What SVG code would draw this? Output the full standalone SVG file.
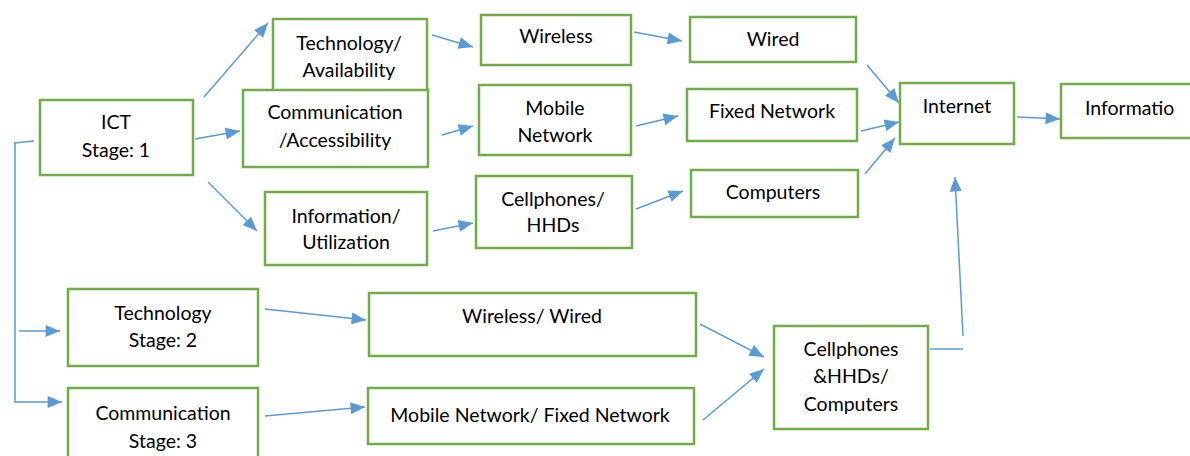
<svg xmlns="http://www.w3.org/2000/svg" width="1190" height="456" viewBox="0 0 1190 456">
<defs>
<style>
.box{fill:#fff;stroke:#70AD47;stroke-width:2.5}
.t{font-family:Lato,"Open Sans","Liberation Sans",sans-serif;font-size:19.5px;fill:#000;text-anchor:middle}
.c{fill:none;stroke:#5B9BD5;stroke-width:1.5}
</style>
<marker id="ah2" viewBox="0 0 12 10" refX="12" refY="5" markerWidth="15" markerHeight="12" markerUnits="userSpaceOnUse" orient="auto">
<path d="M0,0 L12,5 L0,10 z" fill="#5B9BD5"/>
</marker>
</defs>
<rect width="1190" height="456" fill="#fff"/>
<g id="connectors">
<path class="c" d="M204,97 L268,23" marker-end="url(#ah2)"/>
<path class="c" d="M195,139 L240,131" marker-end="url(#ah2)"/>
<path class="c" d="M208,182 L257,231" marker-end="url(#ah2)"/>
<path class="c" d="M432,35 L473,47" marker-end="url(#ah2)"/>
<path class="c" d="M442,135 L473,126" marker-end="url(#ah2)"/>
<path class="c" d="M433,231 L473,223" marker-end="url(#ah2)"/>
<path class="c" d="M634,32 L682,41" marker-end="url(#ah2)"/>
<path class="c" d="M636,126 L678,116" marker-end="url(#ah2)"/>
<path class="c" d="M636,209 L683,191" marker-end="url(#ah2)"/>
<path class="c" d="M867,65 L899,103" marker-end="url(#ah2)"/>
<path class="c" d="M861,131 L899,122" marker-end="url(#ah2)"/>
<path class="c" d="M865,174 L895,138" marker-end="url(#ah2)"/>
<path class="c" d="M1017,117 L1060,119" marker-end="url(#ah2)"/>
<path class="c" d="M14,143 L34,141"/>
<path class="c" d="M15,143 L15,402 L62,402" marker-end="url(#ah2)"/>
<path class="c" d="M19,331 L60,331" marker-end="url(#ah2)"/>
<path class="c" d="M265,309 L366,320" marker-end="url(#ah2)"/>
<path class="c" d="M265,416 L365,407" marker-end="url(#ah2)"/>
<path class="c" d="M700,324 L764,357" marker-end="url(#ah2)"/>
<path class="c" d="M703,420 L764,369" marker-end="url(#ah2)"/>
<path class="c" d="M930,349 L963,349"/>
<path class="c" d="M963,336 L955,177" marker-end="url(#ah2)"/>
</g>
<g id="ict">
<rect class="box" x="40" y="100" width="153" height="75"/>
<text class="t" x="116" y="129">ICT</text>
<text class="t" x="116" y="157">Stage: 1</text>
</g>
<g id="tech-avail">
<rect class="box" x="273" y="19" width="154" height="72"/>
<text class="t" x="349" y="50">Technology/</text>
<text class="t" x="349" y="77">Availability</text>
</g>
<g id="comm-access">
<rect class="box" x="243" y="90" width="185" height="77"/>
<text class="t" x="335" y="119">Communication</text>
<text class="t" x="335" y="147">/Accessibility</text>
</g>
<g id="info-util">
<rect class="box" x="265" y="192" width="162" height="73"/>
<text class="t" x="346" y="223">Information/</text>
<text class="t" x="346" y="249">Utilization</text>
</g>
<g id="wireless">
<rect class="box" x="481" y="15" width="150" height="50"/>
<text class="t" x="556" y="43">Wireless</text>
</g>
<g id="wired">
<rect class="box" x="690" y="17" width="166" height="45"/>
<text class="t" x="773" y="46">Wired</text>
</g>
<g id="mobile">
<rect class="box" x="479" y="85" width="152" height="70"/>
<text class="t" x="555" y="115">Mobile</text>
<text class="t" x="555" y="142">Network</text>
</g>
<g id="fixed">
<rect class="box" x="687" y="89" width="170" height="52"/>
<text class="t" x="772" y="118">Fixed Network</text>
</g>
<g id="cellphones">
<rect class="box" x="476" y="176" width="156" height="72"/>
<text class="t" x="553" y="206">Cellphones/</text>
<text class="t" x="553" y="232">HHDs</text>
</g>
<g id="computers">
<rect class="box" x="691" y="170" width="167" height="47"/>
<text class="t" x="773" y="199">Computers</text>
</g>
<g id="internet">
<rect class="box" x="900" y="83" width="114" height="61"/>
<text class="t" x="957" y="113">Internet</text>
</g>
<g id="information">
<rect class="box" x="1061" y="84" width="140" height="54"/>
<text class="t" x="1085" y="115" style="text-anchor:start">Informatio</text>
</g>
<g id="tech-stage2">
<rect class="box" x="68" y="289" width="190" height="77"/>
<text class="t" x="163" y="320">Technology</text>
<text class="t" x="163" y="347">Stage: 2</text>
</g>
<g id="comm-stage3">
<rect class="box" x="68" y="388" width="190" height="80"/>
<text class="t" x="163" y="420">Communication</text>
<text class="t" x="163" y="448">Stage: 3</text>
</g>
<g id="wireless-wired">
<rect class="box" x="369" y="293" width="327" height="63"/>
<text class="t" x="532" y="323">Wireless/ Wired</text>
</g>
<g id="mobile-fixed">
<rect class="box" x="368" y="388" width="326" height="56"/>
<text class="t" x="530" y="422">Mobile Network/ Fixed Network</text>
</g>
<g id="cell-hhd-comp">
<rect class="box" x="774" y="326" width="154" height="103"/>
<text class="t" x="851" y="356">Cellphones</text>
<text class="t" x="851" y="383">&amp;HHDs/</text>
<text class="t" x="851" y="411">Computers</text>
</g>
</svg>
